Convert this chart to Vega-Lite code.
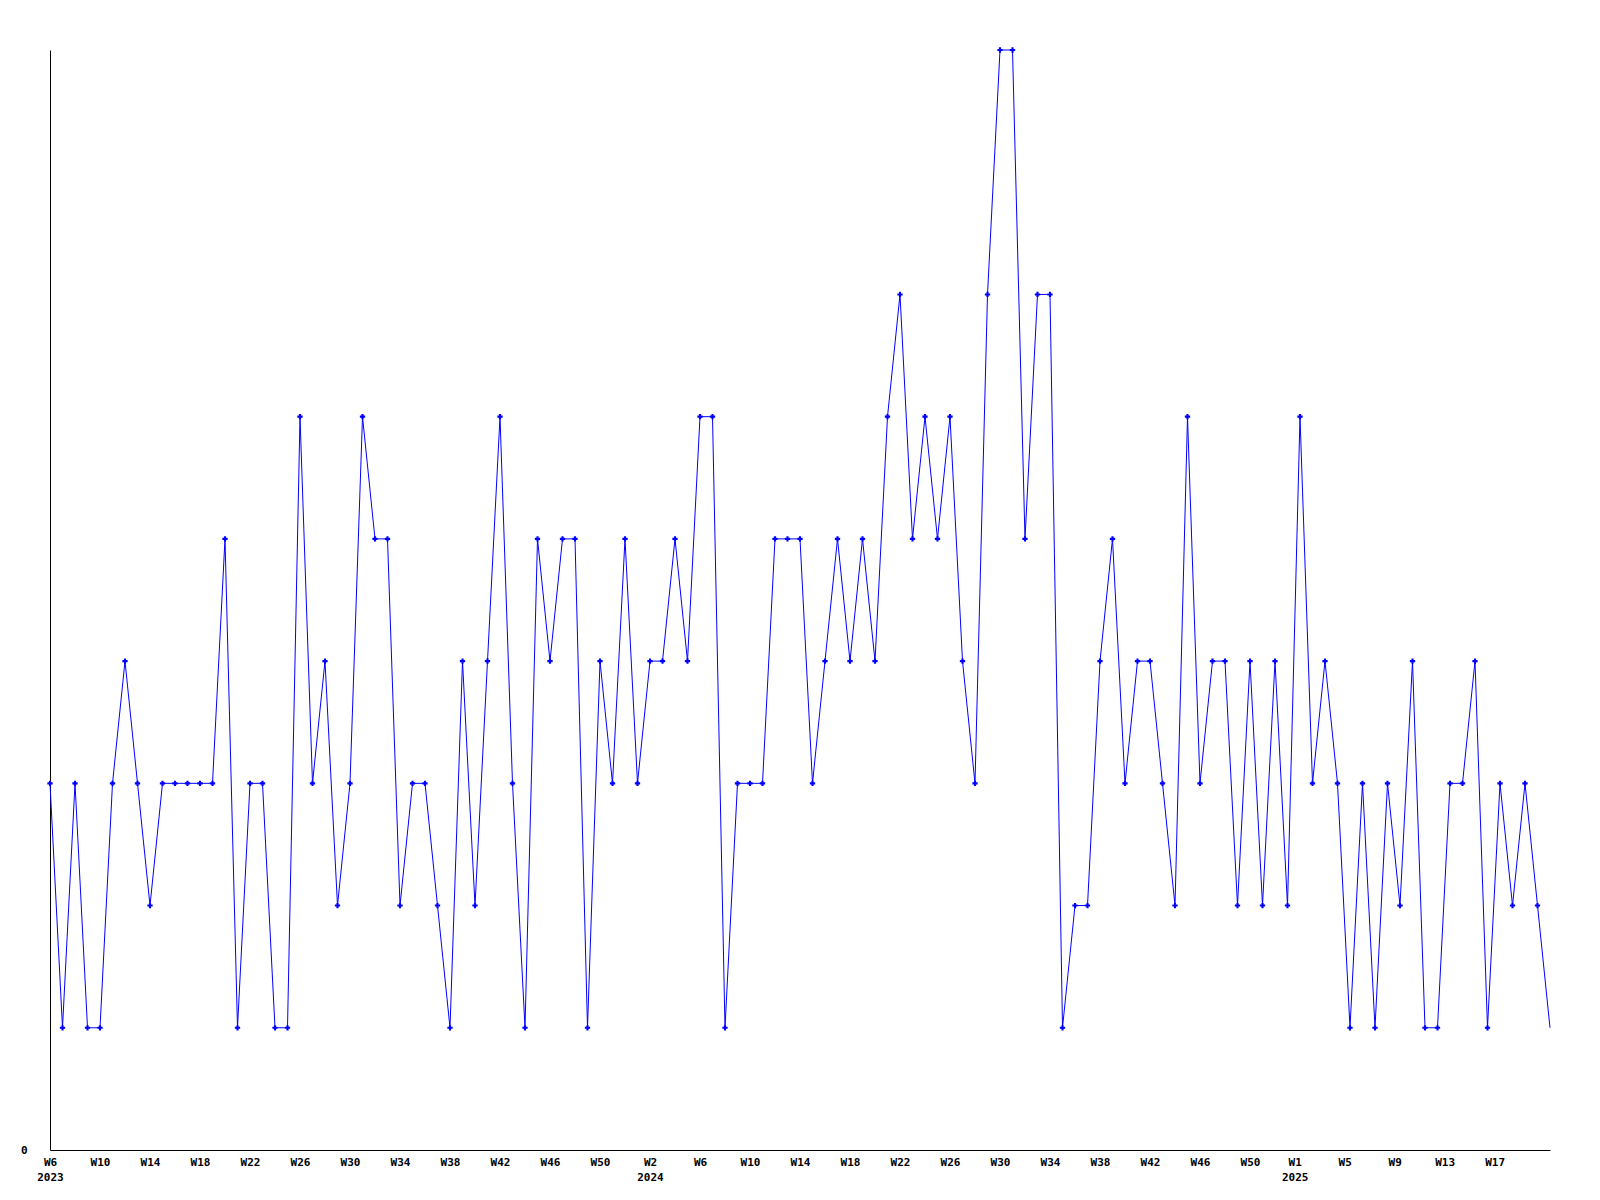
{
  "$schema": "https://vega.github.io/schema/vega-lite/v6.json",
  "width": 1500,
  "height": 1100,
  "autosize": {"type": "none"},
  "padding": {"left": 50, "top": 50, "right": 50, "bottom": 50},
  "background": "white",
  "config": {"view": {"stroke": null}, "font": "DejaVu Sans Mono"},
  "data": {"values": [
    {"week":"2023-02-06","count":3},{"week":"2023-02-13","count":1},{"week":"2023-02-20","count":3},{"week":"2023-02-27","count":1},
    {"week":"2023-03-06","count":1},{"week":"2023-03-13","count":3},{"week":"2023-03-20","count":4},{"week":"2023-03-27","count":3},
    {"week":"2023-04-03","count":2},{"week":"2023-04-10","count":3},{"week":"2023-04-17","count":3},{"week":"2023-04-24","count":3},
    {"week":"2023-05-01","count":3},{"week":"2023-05-08","count":3},{"week":"2023-05-15","count":5},{"week":"2023-05-22","count":1},{"week":"2023-05-29","count":3},
    {"week":"2023-06-05","count":3},{"week":"2023-06-12","count":1},{"week":"2023-06-19","count":1},{"week":"2023-06-26","count":6},
    {"week":"2023-07-03","count":3},{"week":"2023-07-10","count":4},{"week":"2023-07-17","count":2},{"week":"2023-07-24","count":3},{"week":"2023-07-31","count":6},
    {"week":"2023-08-07","count":5},{"week":"2023-08-14","count":5},{"week":"2023-08-21","count":2},{"week":"2023-08-28","count":3},
    {"week":"2023-09-04","count":3},{"week":"2023-09-11","count":2},{"week":"2023-09-18","count":1},{"week":"2023-09-25","count":4},
    {"week":"2023-10-02","count":2},{"week":"2023-10-09","count":4},{"week":"2023-10-16","count":6},{"week":"2023-10-23","count":3},{"week":"2023-10-30","count":1},
    {"week":"2023-11-06","count":5},{"week":"2023-11-13","count":4},{"week":"2023-11-20","count":5},{"week":"2023-11-27","count":5},
    {"week":"2023-12-04","count":1},{"week":"2023-12-11","count":4},{"week":"2023-12-18","count":3},{"week":"2023-12-25","count":5},
    {"week":"2024-01-01","count":3},{"week":"2024-01-08","count":4},{"week":"2024-01-15","count":4},{"week":"2024-01-22","count":5},{"week":"2024-01-29","count":4},
    {"week":"2024-02-05","count":6},{"week":"2024-02-12","count":6},{"week":"2024-02-19","count":1},{"week":"2024-02-26","count":3},
    {"week":"2024-03-04","count":3},{"week":"2024-03-11","count":3},{"week":"2024-03-18","count":5},{"week":"2024-03-25","count":5},
    {"week":"2024-04-01","count":5},{"week":"2024-04-08","count":3},{"week":"2024-04-15","count":4},{"week":"2024-04-22","count":5},{"week":"2024-04-29","count":4},
    {"week":"2024-05-06","count":5},{"week":"2024-05-13","count":4},{"week":"2024-05-20","count":6},{"week":"2024-05-27","count":7},
    {"week":"2024-06-03","count":5},{"week":"2024-06-10","count":6},{"week":"2024-06-17","count":5},{"week":"2024-06-24","count":6},
    {"week":"2024-07-01","count":4},{"week":"2024-07-08","count":3},{"week":"2024-07-15","count":7},{"week":"2024-07-22","count":9},{"week":"2024-07-29","count":9},
    {"week":"2024-08-05","count":5},{"week":"2024-08-12","count":7},{"week":"2024-08-19","count":7},{"week":"2024-08-26","count":1},
    {"week":"2024-09-02","count":2},{"week":"2024-09-09","count":2},{"week":"2024-09-16","count":4},{"week":"2024-09-23","count":5},{"week":"2024-09-30","count":3},
    {"week":"2024-10-07","count":4},{"week":"2024-10-14","count":4},{"week":"2024-10-21","count":3},{"week":"2024-10-28","count":2},
    {"week":"2024-11-04","count":6},{"week":"2024-11-11","count":3},{"week":"2024-11-18","count":4},{"week":"2024-11-25","count":4},
    {"week":"2024-12-02","count":2},{"week":"2024-12-09","count":4},{"week":"2024-12-16","count":2},{"week":"2024-12-23","count":4},{"week":"2024-12-30","count":2},
    {"week":"2025-01-06","count":6},{"week":"2025-01-13","count":3},{"week":"2025-01-20","count":4},{"week":"2025-01-27","count":3},
    {"week":"2025-02-03","count":1},{"week":"2025-02-10","count":3},{"week":"2025-02-17","count":1},{"week":"2025-02-24","count":3},
    {"week":"2025-03-03","count":2},{"week":"2025-03-10","count":4},{"week":"2025-03-17","count":1},{"week":"2025-03-24","count":1},{"week":"2025-03-31","count":3},
    {"week":"2025-04-07","count":3},{"week":"2025-04-14","count":4},{"week":"2025-04-21","count":1},{"week":"2025-04-28","count":3},
    {"week":"2025-05-05","count":2},{"week":"2025-05-12","count":3},{"week":"2025-05-19","count":2},{"week":"2025-05-26","count":1}
  ]},
  "encoding": {
    "x": {
      "field": "week", "type": "temporal",
      "scale": {"type": "utc", "nice": false},
      "axis": {
        "title": null, "grid": false, "ticks": false,
        "domain": true, "domainColor": "black", "domainWidth": 1,
        "labelFont": "DejaVu Sans Mono", "labelFontWeight": "bold", "labelFontSize": 11,
        "labelColor": "black", "labelPadding": 6, "labelLineHeight": 15,
        "labelOverlap": false, "labelFlush": false, "labelBound": false,
        "values": [
          {"year":2023,"month":"Feb","date":6,"utc":true},{"year":2023,"month":"Mar","date":6,"utc":true},
          {"year":2023,"month":"Apr","date":3,"utc":true},{"year":2023,"month":"May","date":1,"utc":true},
          {"year":2023,"month":"May","date":29,"utc":true},{"year":2023,"month":"Jun","date":26,"utc":true},
          {"year":2023,"month":"Jul","date":24,"utc":true},{"year":2023,"month":"Aug","date":21,"utc":true},
          {"year":2023,"month":"Sep","date":18,"utc":true},{"year":2023,"month":"Oct","date":16,"utc":true},
          {"year":2023,"month":"Nov","date":13,"utc":true},{"year":2023,"month":"Dec","date":11,"utc":true},
          {"year":2024,"month":"Jan","date":8,"utc":true},{"year":2024,"month":"Feb","date":5,"utc":true},
          {"year":2024,"month":"Mar","date":4,"utc":true},{"year":2024,"month":"Apr","date":1,"utc":true},
          {"year":2024,"month":"Apr","date":29,"utc":true},{"year":2024,"month":"May","date":27,"utc":true},
          {"year":2024,"month":"Jun","date":24,"utc":true},{"year":2024,"month":"Jul","date":22,"utc":true},
          {"year":2024,"month":"Aug","date":19,"utc":true},{"year":2024,"month":"Sep","date":16,"utc":true},
          {"year":2024,"month":"Oct","date":14,"utc":true},{"year":2024,"month":"Nov","date":11,"utc":true},
          {"year":2024,"month":"Dec","date":9,"utc":true},
          {"year":2025,"month":"Jan","date":3,"utc":true},{"year":2025,"month":"Jan","date":31,"utc":true},
          {"year":2025,"month":"Feb","date":28,"utc":true},{"year":2025,"month":"Mar","date":28,"utc":true},
          {"year":2025,"month":"Apr","date":25,"utc":true}
        ],
        "labelExpr": "((utcyear(datum.value)==2023 && utcmonth(datum.value)==1) || (utcmonth(datum.value)==0 && utcdate(datum.value)<=10)) ? ['W'+toNumber(utcFormat(datum.value,'%V')), ''+utcyear(datum.value)] : 'W'+toNumber(utcFormat(datum.value,'%V'))"
      }
    },
    "y": {
      "field": "count", "type": "quantitative",
      "scale": {"domain": [0, 9], "nice": false},
      "axis": {
        "title": null, "grid": false, "ticks": false, "values": [0],
        "domain": true, "domainColor": "black", "domainWidth": 1,
        "labelFont": "DejaVu Sans Mono", "labelFontWeight": "bold", "labelFontSize": 11,
        "labelColor": "black", "labelPadding": 23
      }
    }
  },
  "layer": [
    {"mark": {"type": "line", "color": "#0000ff", "strokeWidth": 1}},
    {
      "transform": [{"filter": "!(utcyear(datum.week) == 2025 && utcmonth(datum.week) == 4 && utcdate(datum.week) == 26)"}],
      "mark": {"type": "point", "shape": "cross", "size": 28, "filled": true, "color": "#0000ff", "opacity": 1}
    }
  ]
}
